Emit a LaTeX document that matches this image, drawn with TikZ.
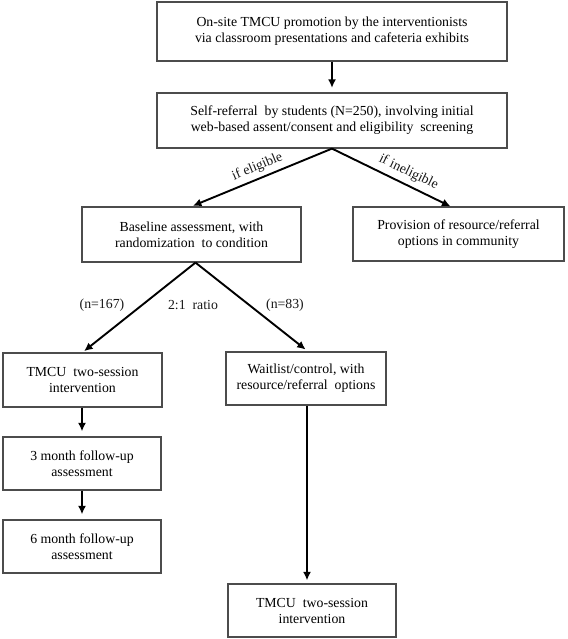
\documentclass[tikz,border=0pt]{standalone}
\usepackage{fontspec}
\setmainfont{Liberation Serif}
\usetikzlibrary{arrows.meta,calc}
\begin{document}
\begin{tikzpicture}[x=1pt,y=-1pt,
  box/.style={draw=black!70,line width=1.2pt,rectangle,inner sep=0pt,align=center,
    font=\fontsize{13.8}{16}\selectfont,text=black},
  arr/.style={line width=1.9pt,-{Latex[length=8.5pt,width=8pt]}},
  lbl/.style={font=\fontsize{13.8}{16}\selectfont,text=black!90,inner sep=0pt}]
\useasboundingbox[fill=white] (0,0) rectangle (567,639);
\node[box,minimum width=350pt,minimum height=59pt] (b1) at (332,31.5)
  {On-site TMCU promotion by the interventionists\\via classroom presentations and cafeteria exhibits};
\node[box,minimum width=350pt,minimum height=55pt] (b2) at (332,120.5)
  {Self-referral\ \ by students (N=250), involving initial\\web-based assent/consent and eligibility\ \ screening};
\node[box,minimum width=219pt,minimum height=55pt] (b3) at (191.5,234.5)
  {Baseline assessment, with\\randomization\ \ to condition};
\node[box,minimum width=211pt,minimum height=54pt] (b4) at (458.5,234)
  {Provision of resource/referral\\options in community};
\node[box,minimum width=159pt,minimum height=54pt] (b5) at (82.5,380)
  {TMCU\ \ two-session\\intervention};
\node[box,minimum width=160pt,minimum height=53pt] (b6) at (306,378.5)
  {Waitlist/control, with\\resource/referral\ \ options};
\node[box,minimum width=158pt,minimum height=53pt] (b7) at (82,463.5)
  {3 month follow-up\\assessment};
\node[box,minimum width=158pt,minimum height=53pt] (b8) at (82,546.5)
  {6 month follow-up\\assessment};
\node[box,minimum width=168pt,minimum height=53pt] (b9) at (312,610.5)
  {TMCU\ \ two-session\\intervention};
\draw[arr,shorten >=4.5pt] (b1.south) -- (b2.north);
\draw[arr,shorten >=1.5pt] (b2.south) -- node[lbl,sloped,above=4pt] {if eligible} (b3.north);
\draw[arr] (b2.south) -- node[lbl,sloped,above=5pt,pos=0.6] {if ineligible} ([xshift=-8pt]b4.north);
\draw[arr,shorten >=2pt] ([xshift=4pt]b3.south) -- (b5.north);
\draw[arr,shorten >=3pt] ([xshift=4pt]b3.south) -- ([xshift=2pt]b6.north);
\node[lbl] (n1) at (102,305) {(n=167)};
\node[lbl] (n2) at (193,305) {2:1\ \ ratio};
\node[lbl] (n3) at (285,305) {(n=83)};
\draw[arr,shorten >=5pt] ([xshift=-0.5pt]b5.south) -- (b7.north);
\draw[arr,shorten >=5pt] (b7.south) -- (b8.north);
\draw[arr,shorten >=3pt] ([xshift=1pt]b6.south) -- ([xshift=1pt]b6.south |- b9.north);
\end{tikzpicture}
\end{document}
